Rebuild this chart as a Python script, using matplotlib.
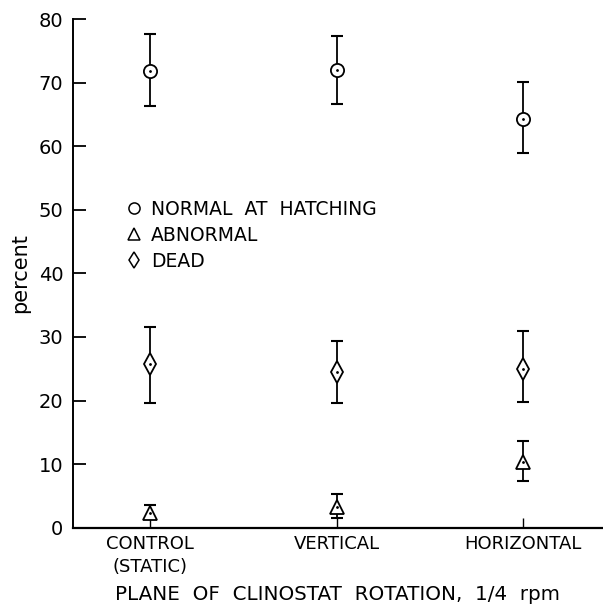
import matplotlib.pyplot as plt
import numpy as np

plt.rcParams['font.family'] = ['DejaVu Sans']

groups = ["CONTROL\n(STATIC)", "VERTICAL", "HORIZONTAL"]

# means and (low, high) error limits
normal = [71.9, 72.0, 64.3]
normal_lo = [66.3, 66.7, 58.9]
normal_hi = [77.6, 77.3, 70.1]

abnormal = [2.4, 3.3, 10.4]
abnormal_lo = [1.5, 1.5, 7.3]
abnormal_hi = [3.6, 5.3, 13.6]

dead = [25.7, 24.5, 25.0]
dead_lo = [19.6, 19.7, 19.8]
dead_hi = [31.6, 29.3, 30.9]


def main():
    fig = plt.figure(figsize=(6.03, 6.13), dpi=100)
    ax = fig.add_axes([0.121, 0.139, 0.879, 0.830])
    x = np.arange(1, len(groups) + 1)

    series = [
        (normal, normal_lo, normal_hi, 'o', 9.5, "NORMAL  AT  HATCHING"),
        (abnormal, abnormal_lo, abnormal_hi, '^', 9.5, "ABNORMAL"),
        (dead, dead_lo, dead_hi, 'd', 11, "DEAD"),
    ]
    handles = []
    for vals, lo, hi, m, ms, lab in series:
        vals = np.array(vals)
        yerr = [vals - np.array(lo), np.array(hi) - vals]
        ax.errorbar(x, vals, yerr=yerr, fmt='none', ecolor='black',
                    elinewidth=1.3, capsize=4, capthick=1.5, zorder=2)
        h, = ax.plot(x, vals, linestyle='none', marker=m, markersize=ms,
                     markerfacecolor='white', markeredgecolor='black',
                     markeredgewidth=1.3, zorder=3, label=lab)
        # little dot in the middle of each symbol
        ax.plot(x, vals, linestyle='none', marker='.', markersize=2,
                color='black', zorder=4)
        handles.append(h)

    leg = ax.legend(handles=handles, loc='upper left',
                    bbox_to_anchor=(0.105, 0.645), frameon=False,
                    fontsize=13.5, handlelength=0.6, handletextpad=0.6,
                    labelspacing=0.38, borderaxespad=0, borderpad=0)
    for h in leg.legend_handles:
        h.set_markersize(8)
        h.set_markeredgewidth(1.1)

    ax.set_xlim(0.585, 3.43)
    ax.set_ylim(0, 80)
    ax.set_yticks(np.arange(0, 81, 10))
    ax.set_xticks(x)
    ax.set_xticklabels(groups, fontsize=13, linespacing=1.4)
    ax.tick_params(axis='y', direction='in', length=9, width=1.3,
                   labelsize=14, pad=7)
    ax.tick_params(axis='x', direction='in', length=7, width=1.0, pad=5)

    ax.spines['top'].set_visible(False)
    ax.spines['right'].set_visible(False)
    ax.spines['left'].set_linewidth(1.4)
    ax.spines['bottom'].set_linewidth(1.6)

    ax.set_ylabel("percent", fontsize=15, labelpad=6)
    ax.set_xlabel("PLANE  OF  CLINOSTAT  ROTATION,  1/4  rpm",
                  fontsize=14.3, labelpad=6.5)

    fig.savefig("out.png", dpi=100)


if __name__ == "__main__":
    main()
